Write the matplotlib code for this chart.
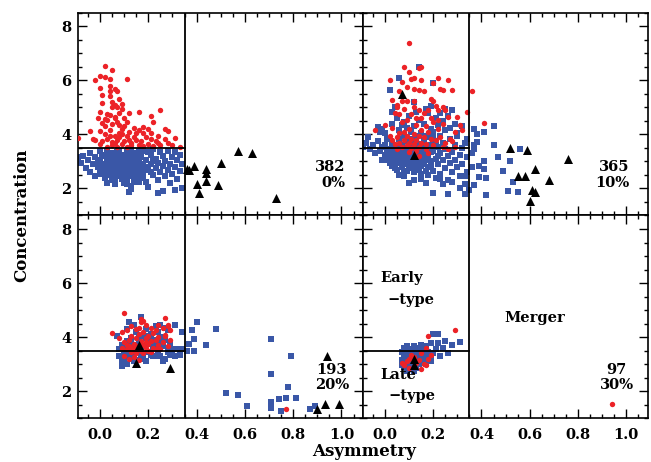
import matplotlib
matplotlib.use("Agg")
import matplotlib.pyplot as plt
import numpy as np

# ---- data (asymmetry, concentration) ----

# panel 1 (top left)
p1_red = [(0.02,6.52),(0.00,6.15),(0.02,6.12),(0.05,6.37),(-0.02,6.02),(0.04,6.05),(0.11,6.06),(0.04,5.80),(0.06,5.68),(0.00,5.71),(0.04,5.60),(0.07,5.62),(0.04,5.42),(0.01,5.45),(0.08,5.33),(0.01,5.16),(0.06,5.10),(0.05,5.00),(0.09,4.96),(0.00,4.85),(0.08,4.78),(0.04,4.72),(0.06,4.65),(0.02,4.58),(-0.01,4.60),(0.03,4.52),(0.07,4.48),(0.01,4.42),(0.05,4.38),(0.10,4.62),(0.12,4.78),(0.16,4.85),(0.22,4.47),(0.21,4.70),(0.25,4.90),(0.28,4.13),(0.31,3.88),(0.18,4.28),(0.20,4.22),(0.14,4.25),(0.09,4.20),(0.04,4.15),(0.00,4.12),(-0.04,4.13),(-0.03,3.82),(-0.09,3.88),(0.02,4.00),(0.06,3.95),(0.08,4.05),(0.11,3.95),(0.15,4.05),(0.19,3.90),(0.21,3.85),(0.24,3.95),(0.27,3.82),(0.33,3.55),(0.28,3.70),(0.23,3.75),(0.17,3.75),(0.12,3.80),(0.07,3.80),(0.03,3.85),(-0.02,3.80),(0.00,3.65),(0.05,3.60),(0.09,3.65),(0.13,3.60),(0.16,3.62),(0.20,3.65),(0.25,3.60),(0.03,3.55),(0.07,3.55),(0.11,3.55),(0.06,3.70),(0.10,3.75),(0.14,3.90),(0.04,3.95),(0.01,3.75),(0.12,4.10),(0.08,4.35),(0.02,4.30),(0.06,4.60),(0.11,4.45),(0.05,5.22),(0.07,5.00),(0.09,5.12),(0.09,4.00),(0.13,3.70),(0.18,3.58),(0.15,3.80),(0.22,3.58),(0.05,3.72),(0.08,3.90),(0.10,4.30),(0.03,4.75),(0.18,4.05),(0.27,4.22),(0.21,4.05),(0.16,4.15),(0.30,3.60),(0.24,3.68)]
p1_blue = [(-0.09,3.18),(-0.07,3.20),(-0.08,2.95),(-0.06,2.75),(-0.05,3.05),(-0.04,3.30),(-0.03,2.90),(-0.04,2.60),(-0.02,3.15),(-0.01,2.80),(-0.02,2.45),(0.00,3.38),(0.00,3.05),(0.01,2.65),(0.01,2.90),(0.02,3.20),(0.02,2.40),(0.03,2.20),(0.03,3.40),(0.03,2.95),(0.04,2.75),(0.04,3.10),(0.05,2.55),(0.05,3.30),(0.05,2.85),(0.06,3.00),(0.06,2.35),(0.06,2.70),(0.07,3.20),(0.07,2.60),(0.07,2.90),(0.08,3.40),(0.08,2.45),(0.08,2.80),(0.08,3.05),(0.09,2.65),(0.09,3.25),(0.09,2.95),(0.10,2.20),(0.10,2.75),(0.10,3.10),(0.10,2.50),(0.11,3.35),(0.11,2.85),(0.11,2.35),(0.12,3.00),(0.12,2.60),(0.12,3.20),(0.13,2.70),(0.13,2.10),(0.13,3.45),(0.13,2.90),(0.14,2.45),(0.14,3.10),(0.15,2.80),(0.15,3.30),(0.15,2.55),(0.16,2.95),(0.16,2.25),(0.17,3.15),(0.17,2.65),(0.18,2.85),(0.18,3.40),(0.18,2.40),(0.19,3.05),(0.20,2.70),(0.20,2.05),(0.21,3.25),(0.21,2.90),(0.22,2.50),(0.22,3.45),(0.23,2.75),(0.23,3.10),(0.24,2.30),(0.24,2.95),(0.25,3.35),(0.25,2.60),(0.26,2.85),(0.26,3.20),(0.27,2.45),(0.27,3.00),(0.28,2.70),(0.28,3.40),(0.29,2.20),(0.29,2.90),(0.30,3.15),(0.30,2.55),(0.31,2.80),(0.31,3.35),(0.32,2.35),(0.32,3.05),(0.33,2.65),(0.33,3.25),(0.34,2.00),(0.34,2.90),(0.26,1.90),(0.31,1.94),(0.12,1.88),(0.13,1.97),(0.20,2.07),(0.24,1.85),(0.02,2.85),(0.03,3.05),(0.04,2.60),(0.06,3.15),(0.07,2.75),(0.08,2.95),(0.09,2.55),(0.09,3.10),(0.10,2.90),(0.11,2.65),(0.11,3.05),(0.12,2.80),(0.13,3.20),(0.14,2.85),(0.14,2.65),(0.15,3.00),(0.16,2.75),(0.16,3.20),(0.17,2.90),(0.05,2.95),(0.06,2.55),(0.07,3.35),(0.04,3.25),(0.08,2.65),(0.10,3.25),(0.12,2.45),(0.02,2.60),(0.00,2.70),(0.01,3.25),(0.03,2.50),(0.09,2.35),(0.11,2.15),(0.15,2.35),(0.18,2.60),(0.19,2.80),(0.20,3.35),(0.21,2.60),(0.22,3.00),(0.19,2.25),(0.17,2.45),(0.14,2.25),(0.06,2.15),(0.05,2.30),(0.13,3.30),(0.16,3.40),(-0.01,3.00),(0.00,2.55),(0.10,2.40),(0.08,3.20),(0.07,3.05)]
p1_tri = [(0.36,2.72),(0.37,2.69),(0.39,2.84),(0.40,2.16),(0.41,1.82),(0.44,2.71),(0.44,2.58),(0.44,2.27),(0.49,2.13),(0.50,2.94),(0.57,3.40),(0.63,3.30),(0.73,1.65)]

# panel 2 (top right)
p2_red = [(0.10,7.38),(0.02,6.02),(0.08,6.49),(0.10,6.33),(0.11,6.05),(0.12,6.10),(0.14,6.46),(0.15,6.50),(0.07,5.95),(0.09,5.75),(0.12,5.68),(0.14,5.65),(0.16,5.62),(0.15,6.02),(0.20,5.90),(0.22,6.10),(0.26,6.02),(0.23,5.70),(0.24,5.65),(0.28,5.65),(0.06,5.60),(0.03,5.28),(0.05,5.10),(0.07,5.25),(0.08,4.95),(0.04,4.80),(0.06,4.75),(0.05,5.00),(0.09,5.25),(0.12,5.25),(0.12,5.00),(0.14,4.90),(0.15,4.60),(0.17,4.30),(0.19,5.30),(0.20,5.25),(0.18,4.90),(0.21,5.05),(0.22,4.90),(0.24,5.00),(0.25,4.90),(0.26,4.65),(0.30,4.65),(0.31,4.35),(0.32,4.15),(0.29,4.10),(0.27,3.85),(0.28,3.75),(0.25,3.70),(0.36,5.60),(0.34,4.82),(0.41,4.44),(-0.04,4.15),(0.00,4.35),(0.02,3.95),(0.03,3.80),(0.04,3.65),(0.05,3.90),(0.06,4.05),(0.06,3.70),(0.07,3.55),(0.08,3.80),(0.08,4.10),(0.09,3.60),(0.09,3.95),(0.10,3.70),(0.10,4.20),(0.11,3.85),(0.11,3.50),(0.12,4.00),(0.12,3.65),(0.13,3.80),(0.13,4.35),(0.14,3.55),(0.14,3.95),(0.15,4.15),(0.15,3.70),(0.16,3.90),(0.17,3.65),(0.18,4.10),(0.19,3.85),(0.20,4.45),(0.21,3.80),(0.22,4.20),(0.23,3.90),(0.24,4.40),(0.20,3.60),(0.17,3.45),(0.13,3.40),(0.05,3.45),(0.03,4.25),(0.07,4.45),(0.09,4.55),(0.11,4.75),(0.13,4.60),(0.16,4.80),(0.19,4.60),(0.22,4.55),(0.18,3.30),(0.10,3.35),(0.14,3.20),(0.24,3.55),(0.26,3.45),(0.29,3.55)]
p2_blue = [(0.14,6.50),(0.06,6.10),(0.02,5.63),(0.20,5.90),(0.04,5.00),(0.03,4.82),(-0.07,3.90),(-0.03,4.29),(-0.01,4.20),(-0.02,4.10),(0.05,4.60),(0.08,4.45),(0.10,4.70),(0.12,4.30),(0.14,4.55),(0.16,4.40),(0.18,4.80),(0.19,4.20),(0.21,4.60),(0.22,4.35),(0.24,4.50),(0.25,4.15),(0.26,4.70),(0.27,4.25),(0.29,4.40),(0.30,4.05),(0.11,4.10),(0.09,4.25),(0.06,4.15),(0.15,4.05),(0.17,4.95),(0.13,4.85),(0.07,4.35),(0.20,4.10),(0.23,4.80),(0.32,4.30),(0.28,4.90),(0.03,4.40),(0.00,4.05),(0.12,5.20),(0.19,5.05),(0.25,4.95),
           (-0.09,3.55),(-0.08,3.70),(-0.06,3.45),(-0.05,3.60),(-0.04,3.30),(-0.03,3.75),(-0.02,3.40),(-0.01,3.05),(0.00,3.60),(0.00,3.25),(0.01,3.05),(0.01,3.85),(0.02,3.45),(0.02,3.15),(0.03,2.85),(0.03,3.65),(0.04,3.30),(0.04,2.95),(0.05,3.50),(0.05,3.10),(0.05,2.70),(0.06,3.85),(0.06,3.35),(0.06,2.50),(0.07,3.00),(0.07,3.60),(0.07,2.80),(0.08,3.20),(0.08,2.45),(0.08,3.95),(0.09,3.45),(0.09,2.90),(0.09,2.65),(0.10,3.15),(0.10,3.70),(0.10,2.75),(0.11,3.35),(0.11,2.95),(0.11,3.85),(0.12,3.05),(0.12,2.60),(0.12,3.55),(0.13,3.25),(0.13,2.85),(0.13,3.95),(0.14,3.45),(0.14,3.00),(0.14,2.70),(0.15,3.65),(0.15,3.15),(0.15,2.55),(0.16,3.35),(0.16,2.90),(0.16,3.80),(0.17,3.05),(0.17,3.50),(0.17,2.65),(0.18,3.25),(0.18,3.90),(0.18,2.80),(0.19,3.60),(0.19,3.00),(0.20,3.40),(0.20,2.65),(0.20,3.80),(0.21,3.10),(0.21,2.40),(0.22,3.55),(0.22,2.90),(0.23,3.30),(0.23,3.95),(0.23,2.55),(0.24,3.05),(0.24,3.70),(0.25,2.75),(0.25,3.45),(0.26,3.20),(0.26,2.30),(0.27,3.85),(0.27,2.95),(0.28,3.35),(0.28,2.60),(0.29,3.60),(0.29,3.05),(0.30,2.80),(0.30,3.95),(0.31,3.25),(0.31,2.45),(0.32,3.50),(0.32,2.90),(0.33,3.70),(0.33,2.15),(0.34,3.15),(0.34,2.60),(0.34,3.85),
           (0.02,3.30),(0.03,3.10),(0.04,3.55),(0.05,2.95),(0.06,3.20),(0.07,3.45),(0.08,3.05),(0.09,3.25),(0.10,2.95),(0.11,3.15),(0.12,3.35),(0.13,3.05),(0.14,3.25),(0.15,2.85),(0.16,3.10),(0.17,3.30),(0.18,3.10),(0.19,3.35),(0.10,3.45),(0.07,3.25),(0.05,3.35),(0.03,3.50),(0.12,2.85),(0.14,3.60),(0.08,2.65),(0.06,3.05),(0.15,3.45),(0.21,3.60),(0.22,3.20),(0.19,2.85),(0.09,3.75),(0.11,3.60),(0.13,3.75),(0.16,3.60),(0.17,3.95),(0.20,4.00),(0.04,2.75),(0.02,2.95),(0.01,3.40),(-0.01,3.55),
           (0.08,2.45),(0.12,2.30),(0.15,2.35),(0.18,2.50),(0.20,1.85),(0.26,1.80),(0.24,2.15),(0.28,2.25),(0.31,2.00),(0.33,2.45),(0.10,2.20),(0.17,2.20),(0.23,2.35),
           (0.37,4.22),(0.41,4.10),(0.45,4.31),(0.45,3.61),(0.38,3.72),(0.37,3.47),(0.47,3.15),(0.52,3.01),(0.56,3.45),(0.41,3.01),(0.36,2.79),(0.41,2.73),(0.39,2.85),(0.49,2.63),(0.42,2.39),(0.39,2.44),(0.53,2.23),(0.51,1.91),(0.55,1.88),(0.42,1.76),(0.37,2.12),(0.35,1.96),(0.33,1.80),(0.36,3.30),(0.37,3.60),(0.38,4.00)]
p2_tri = [(0.07,5.49),(0.12,3.24),(0.52,3.51),(0.59,3.44),(0.76,3.09),(0.62,2.72),(0.55,2.46),(0.58,2.47),(0.68,2.32),(0.61,1.95),(0.62,1.87),(0.60,1.52)]

# panel 3 (bottom left)
p3_red = [(0.10,4.89),(0.05,4.15),(0.17,4.68),(0.27,4.70),(0.24,4.43),(0.28,4.41),(0.27,4.09),(0.16,4.34),(0.09,4.20),(0.08,3.95),(0.10,3.80),(0.11,3.70),(0.11,3.55),(0.12,3.90),(0.12,3.65),(0.13,3.45),(0.13,4.05),(0.14,3.75),(0.14,3.55),(0.15,3.95),(0.15,3.40),(0.16,3.65),(0.16,4.10),(0.17,3.85),(0.17,3.50),(0.18,4.20),(0.18,3.70),(0.18,3.40),(0.19,3.95),(0.19,3.60),(0.20,4.05),(0.20,3.75),(0.20,3.50),(0.21,3.85),(0.22,4.15),(0.22,3.60),(0.23,3.90),(0.24,3.70),(0.24,4.00),(0.25,3.55),(0.26,3.80),(0.27,4.05),(0.28,3.65),(0.29,4.25),(0.29,3.90),(0.12,3.20),(0.10,3.30),(0.14,3.25),(0.16,3.15),(0.11,4.25),(0.13,4.40),(0.15,4.30),(0.17,4.55),(0.18,4.60),(0.19,4.45),(0.21,4.35),(0.23,4.25),(0.26,4.35),(0.28,4.45),(0.09,3.60),(0.13,3.60),(0.15,3.65),(0.19,3.80),(0.21,3.45),(0.23,3.55),(0.77,1.33)]
p3_blue = [(0.07,4.05),(0.08,3.55),(0.08,3.30),(0.09,2.92),(0.09,3.05),(0.09,3.18),(0.10,3.65),(0.10,3.40),(0.11,4.31),(0.11,3.85),(0.12,4.56),(0.12,3.50),(0.12,3.25),(0.13,3.75),(0.13,3.95),(0.14,4.46),(0.14,3.60),(0.14,3.35),(0.15,3.15),(0.15,4.20),(0.16,3.85),(0.16,3.50),(0.17,4.74),(0.17,3.40),(0.17,3.20),(0.18,4.05),(0.18,3.65),(0.19,3.10),(0.19,3.95),(0.19,4.30),(0.20,3.45),(0.20,3.75),(0.21,4.10),(0.21,3.35),(0.22,3.60),(0.22,3.90),(0.23,3.29),(0.23,4.40),(0.24,3.50),(0.24,3.80),(0.25,4.46),(0.25,3.30),(0.25,4.00),(0.26,3.10),(0.26,3.65),(0.27,3.90),(0.27,3.20),(0.28,4.27),(0.28,3.45),(0.29,3.75),(0.29,3.35),(0.30,3.55),(0.31,4.46),(0.31,3.29),(0.32,3.54),(0.33,3.35),(0.34,4.17),(0.34,3.55),(0.09,3.70),(0.10,3.15),(0.11,3.55),(0.13,3.45),(0.15,3.70),(0.16,4.00),(0.18,3.30),(0.20,4.05),(0.22,3.30),(0.23,3.70),(0.26,3.85),(0.27,4.35),(0.28,3.60),(0.30,3.40),(0.11,3.00),(0.14,3.10),(0.17,3.55),(0.21,3.80),(0.24,4.20),(0.13,3.20),
           (0.40,4.57),(0.38,4.25),(0.39,3.94),(0.37,3.74),(0.39,3.47),(0.44,3.72),(0.48,4.29),(0.36,3.50),(0.71,3.93),(0.71,2.64),(0.79,3.28),(0.78,2.15),(0.52,1.94),(0.57,1.84),(0.61,1.43),(0.71,1.59),(0.71,1.38),(0.74,1.72),(0.77,1.74),(0.81,1.74),(0.75,1.27),(0.87,1.35),(0.89,1.45)]
p3_tri = [(0.16,3.72),(0.15,3.02),(0.29,2.86),(0.94,3.29),(0.90,1.35),(0.93,1.53),(0.99,1.53)]

# panel 4 (bottom right)
p4_red = [(0.29,4.27),(0.18,4.03),(0.17,3.60),(0.15,3.42),(0.19,3.35),(0.12,3.25),(0.10,3.20),(0.09,3.10),(0.08,2.95),(0.10,2.85),(0.12,2.90),(0.13,3.05),(0.14,3.15),(0.16,3.00),(0.17,2.95),(0.18,3.20),(0.11,3.35),(0.07,3.05),(0.15,2.80),(0.94,1.53)]
p4_blue = [(0.20,4.11),(0.22,4.11),(0.19,3.78),(0.22,3.78),(0.17,3.68),(0.15,3.72),(0.12,3.68),(0.09,3.65),(0.28,3.72),(0.31,3.80),(0.26,3.41),(0.20,3.41),(0.19,3.29),(0.17,3.35),(0.19,3.10),(0.07,3.45),(0.08,3.30),(0.08,3.10),(0.08,2.90),(0.09,3.50),(0.09,3.20),(0.09,2.95),(0.10,3.40),(0.10,3.05),(0.10,2.80),(0.11,3.30),(0.11,3.15),(0.11,2.95),(0.12,3.45),(0.12,3.25),(0.12,3.00),(0.13,3.35),(0.13,3.10),(0.13,2.85),(0.14,3.45),(0.14,3.20),(0.14,3.00),(0.15,3.30),(0.15,3.05),(0.16,3.40),(0.16,3.15),(0.17,3.25),(0.17,3.00),(0.18,3.45),(0.18,3.20),(0.07,3.15),(0.07,2.95),(0.08,3.60),(0.10,3.55),(0.11,3.45),(0.13,3.55),(0.15,3.50),(0.21,3.55),(0.24,3.60),(0.25,3.85),(0.09,2.75),(0.12,2.75),(0.14,3.60),(0.16,3.55),(0.23,3.30)]
p4_tri = [(0.12,3.20),(0.12,2.97)]

counts = ["382", "365", "193", "97"]
fractions = ["0%", "10%", "20%", "30%"]

red = "#ec2227"
blue = "#3a57a7"
font = "DejaVu Serif"

fig, axes = plt.subplots(2, 2, figsize=(6.51, 4.62), dpi=100, sharex=True, sharey=True)
plt.subplots_adjust(left=0.1203, right=0.9954, top=0.9719, bottom=0.0952, wspace=0, hspace=0)

panels = [(p1_red, p1_blue, p1_tri), (p2_red, p2_blue, p2_tri),
          (p3_red, p3_blue, p3_tri), (p4_red, p4_blue, p4_tri)]

for i, ax in enumerate(axes.flat):
    r, b, t = panels[i]
    b = np.array(b); r = np.array(r); t = np.array(t)
    ax.scatter(b[:, 0], b[:, 1], s=14, marker="s", color=blue, linewidths=0, zorder=2)
    ax.scatter(r[:, 0], r[:, 1], s=15, marker="o", color=red, linewidths=0, zorder=3)
    ax.scatter(t[:, 0], t[:, 1], s=42, marker="^", color="black", linewidths=0, zorder=4)

    ax.axvline(0.35, color="black", lw=1.3, zorder=5)
    ax.plot([-0.09, 0.35], [3.5, 3.5], color="black", lw=1.3, zorder=5)

    ax.set_xlim(-0.09, 1.09)
    ax.set_ylim(1.0, 8.5)
    ax.set_xticks([0.0, 0.2, 0.4, 0.6, 0.8, 1.0])
    ax.set_xticks(np.arange(-0.05, 1.09, 0.05), minor=True)
    ax.set_yticks([2, 4, 6, 8])
    ax.set_yticks(np.arange(1.0, 8.51, 0.5), minor=True)
    ax.tick_params(which="both", direction="in", top=True, right=True, width=1.0, labelsize=10.5)
    ax.tick_params(which="major", length=6.5)
    ax.tick_params(which="minor", length=3.2)
    ax.tick_params(axis="x", pad=7)
    ax.tick_params(axis="y", pad=5)
    for s in ax.spines.values():
        s.set_linewidth(1.2)
    for lab in ax.get_xticklabels() + ax.get_yticklabels():
        lab.set_fontfamily(font)
        lab.set_fontweight("bold")

    if i < 2:
        ax.text(1.015, 2.79, counts[i], ha="right", va="center", family=font, weight="bold", fontsize=10.5)
        ax.text(1.015, 2.20, fractions[i], ha="right", va="center", family=font, weight="bold", fontsize=10.5)
    else:
        ax.text(0.96, 2.76, counts[i], ha="center", va="center", family=font, weight="bold", fontsize=10.5)
        ax.text(0.96, 2.21, fractions[i], ha="center", va="center", family=font, weight="bold", fontsize=10.5)

axes[0, 0].xaxis.set_major_formatter(matplotlib.ticker.FormatStrFormatter("%.1f"))

ax4 = axes[1, 1]
kw = dict(family=font, weight="bold", fontsize=10.5, va="center")
ax4.text(-0.02, 6.19, "Early", ha="left", **kw)
ax4.text(0.01, 5.38, "\u2212type", ha="left", **kw)
ax4.text(0.62, 4.72, "Merger", ha="center", **kw)
ax4.text(-0.02, 2.61, "Late", ha="left", **kw)
ax4.text(0.015, 1.80, "\u2212type", ha="left", **kw)

fig.text(0.034, 0.535, "Concentration", rotation=90, ha="center", va="center",
         family=font, weight="bold", fontsize=12)
fig.text(0.559, 0.022, "Asymmetry", ha="center", va="center",
         family=font, weight="bold", fontsize=12)

fig.savefig("out.png", dpi=100)
